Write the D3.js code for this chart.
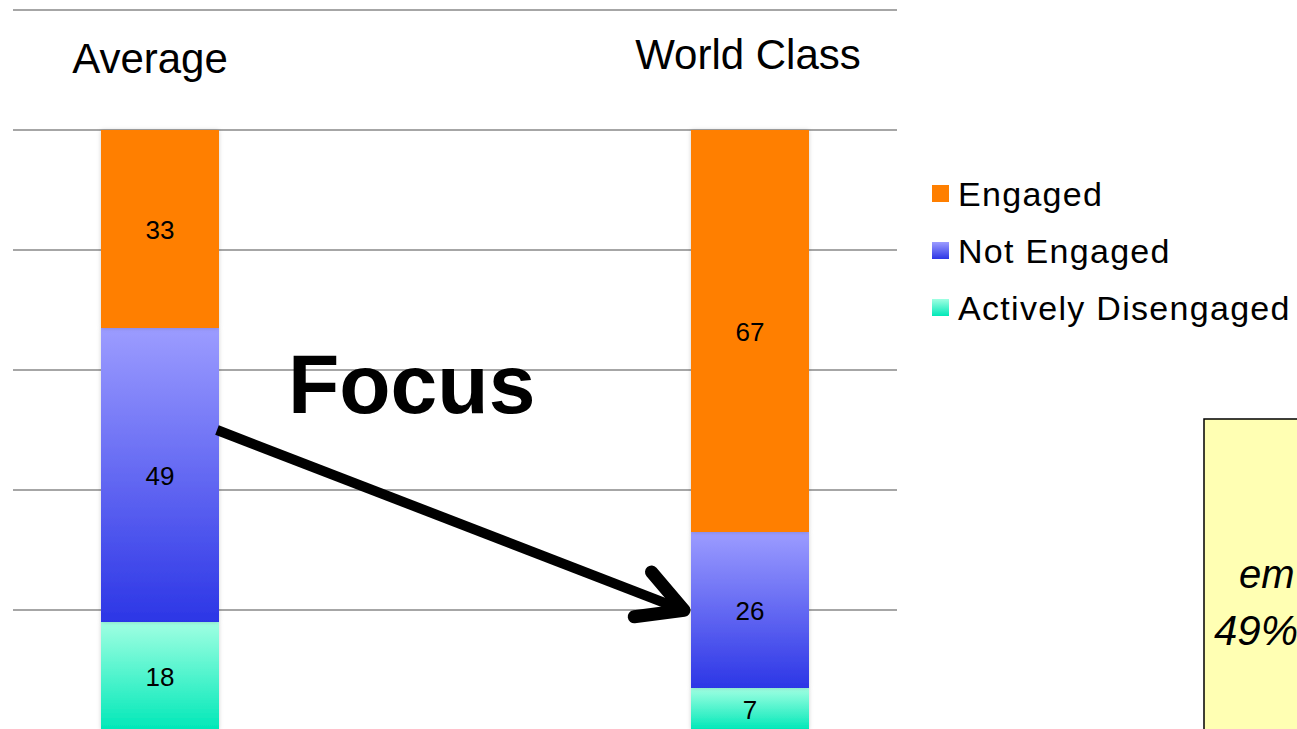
<!DOCTYPE html>
<html>
<head>
<meta charset="utf-8">
<script src="https://cdn.jsdelivr.net/npm/d3@7"></script>
<style>
  html, body { margin: 0; padding: 0; background: #fff; overflow: hidden; }
  svg { display: block; font-family: "Liberation Sans", Arial, sans-serif; }
</style>
</head>
<body>
<svg id="chart" width="1297" height="729"></svg>
<script>

const categories = ['Average', 'World Class'];
const seriesNames = ['Actively Disengaged', 'Not Engaged', 'Engaged'];
const activelyDisengaged = [18, 7];
const notEngaged = [49, 26];
const engaged = [33, 67];
const gridTicks = [0, 20, 40, 60, 80, 100, 120];
const legendOrder = ['Engaged', 'Not Engaged', 'Actively Disengaged'];

const svg = d3.select('#chart'),
    width = 1297,
    height = 729;

const yScale = d3.scaleLinear().domain([0, 120]).range([730, 10]);
const xScale = d3.scalePoint().domain(categories).range([160, 750]);
const barW = 118;

const defs = svg.append('defs');

const grad = function(id, top, bottom){
    let g = defs.append('linearGradient').attr('id', id)
        .attr('x1', 0).attr('y1', 0).attr('x2', 0).attr('y2', 1);
    g.append('stop').attr('offset', '0%').attr('stop-color', top);
    g.append('stop').attr('offset', '100%').attr('stop-color', bottom);
};
grad('gNot', '#9c9cff', '#2c36e6');
grad('gAct', '#a0ffe2', '#00e8b8');

let shadow = defs.append('filter').attr('id', 'shadow')
    .attr('x', '-10%').attr('y', '-10%').attr('width', '120%').attr('height', '120%');
shadow.append('feDropShadow').attr('dx', 0).attr('dy', 0).attr('stdDeviation', 2)
    .attr('flood-color', '#000').attr('flood-opacity', 0.18);

const fills = {
    'Engaged': '#ff7f00',
    'Not Engaged': 'url(#gNot)',
    'Actively Disengaged': 'url(#gAct)'
};

// gridlines
svg.append('g').selectAll('line')
    .data(gridTicks)
    .enter()
    .append('line')
    .attr('x1', 13).attr('x2', 897)
    .attr('y1', function(d){ return yScale(d) })
    .attr('y2', function(d){ return yScale(d) })
    .attr('stroke', '#a6a6a6')
    .attr('stroke-width', 2);

// stacked data
let rows = categories.map(function(c, i){
    return {
        cat: c,
        'Actively Disengaged': activelyDisengaged[i],
        'Not Engaged': notEngaged[i],
        'Engaged': engaged[i]
    };
});
let stacked = d3.stack().keys(seriesNames)(rows);

let layers = svg.append('g').selectAll('g')
    .data(stacked)
    .enter()
    .append('g');

layers.selectAll('rect')
    .data(function(s){ return s.map(function(d){ return {key: s.key, d: d} }) })
    .enter()
    .append('rect')
    .attr('x', function(p){ return xScale(p.d.data.cat) - barW / 2 })
    .attr('width', barW)
    .attr('y', function(p){ return yScale(p.d[1]) })
    .attr('height', function(p){ return yScale(p.d[0]) - yScale(p.d[1]) })
    .attr('fill', function(p){ return fills[p.key] })
    .attr('filter', 'url(#shadow)');

layers.selectAll('text')
    .data(function(s){ return s.map(function(d){ return {key: s.key, d: d} }) })
    .enter()
    .append('text')
    .attr('x', function(p){ return xScale(p.d.data.cat) })
    .attr('y', function(p){
        let mid = (yScale(p.d[0]) + yScale(p.d[1])) / 2;
        return mid + 10;
    })
    .attr('text-anchor', 'middle')
    .attr('font-size', 26)
    .attr('fill', '#000')
    .text(function(p){ return p.d[1] - p.d[0] });

// category labels on top
svg.append('g').selectAll('text')
    .data(categories)
    .enter()
    .append('text')
    .attr('x', function(d, i){ return xScale(d) + (i == 0 ? -10 : -2) })
    .attr('y', function(d, i){ return i == 0 ? 73 : 69 })
    .attr('text-anchor', 'middle')
    .attr('font-size', 42)
    .attr('fill', '#000')
    .text(function(d){ return d });

// legend
let legend = svg.append('g').selectAll('g')
    .data(legendOrder)
    .enter()
    .append('g')
    .attr('transform', function(d, i){ return 'translate(932,' + (185 + i * 57) + ')' });
legend.append('rect')
    .attr('width', 17).attr('height', 17)
    .attr('fill', function(d){ return fills[d] });
legend.append('text')
    .attr('x', 26).attr('y', 21)
    .attr('font-size', 34)
    .attr('letter-spacing', 1.3)
    .attr('fill', '#000')
    .text(function(d){ return d });

// Focus annotation arrow
let x0 = xScale('Average') + barW / 2 - 2, y0 = yScale(50),
    x1 = xScale('World Class') - barW / 2 - 3, y1 = yScale(19.7);
let ang = Math.atan2(y1 - y0, x1 - x0), head = 54, spread = 0.46;
let arrow = svg.append('g')
    .attr('stroke', '#000').attr('fill', 'none');
arrow.append('line').attr('x1', x0).attr('y1', y0).attr('x2', x1 - 4).attr('y2', y1 - 1.5)
    .attr('stroke-width', 10);
arrow.append('path')
    .attr('stroke-width', 13)
    .attr('stroke-linecap', 'round')
    .attr('stroke-linejoin', 'round')
    .attr('d', d3.line()([
        [x1 - head * Math.cos(ang - spread), y1 - head * Math.sin(ang - spread)],
        [x1 - 4, y1 - 1.5],
        [x1 - head * Math.cos(ang + spread), y1 - head * Math.sin(ang + spread)]
    ]));

svg.append('text')
    .attr('x', 288).attr('y', 413)
    .attr('font-size', 84)
    .attr('font-weight', 'bold')
    .attr('fill', '#000')
    .text('Focus');

// yellow callout box (cut off at page edge)
svg.append('rect')
    .attr('x', 1204).attr('y', 419)
    .attr('width', 200).attr('height', 400)
    .attr('fill', '#ffffb3')
    .attr('stroke', '#000')
    .attr('stroke-width', 1.5);
svg.append('text')
    .attr('x', 1239).attr('y', 588)
    .attr('font-size', 40).attr('font-style', 'italic')
    .text('em');
svg.append('text')
    .attr('x', 1214).attr('y', 645)
    .attr('font-size', 42).attr('font-style', 'italic')
    .text('49%');

</script>
</body>
</html>
